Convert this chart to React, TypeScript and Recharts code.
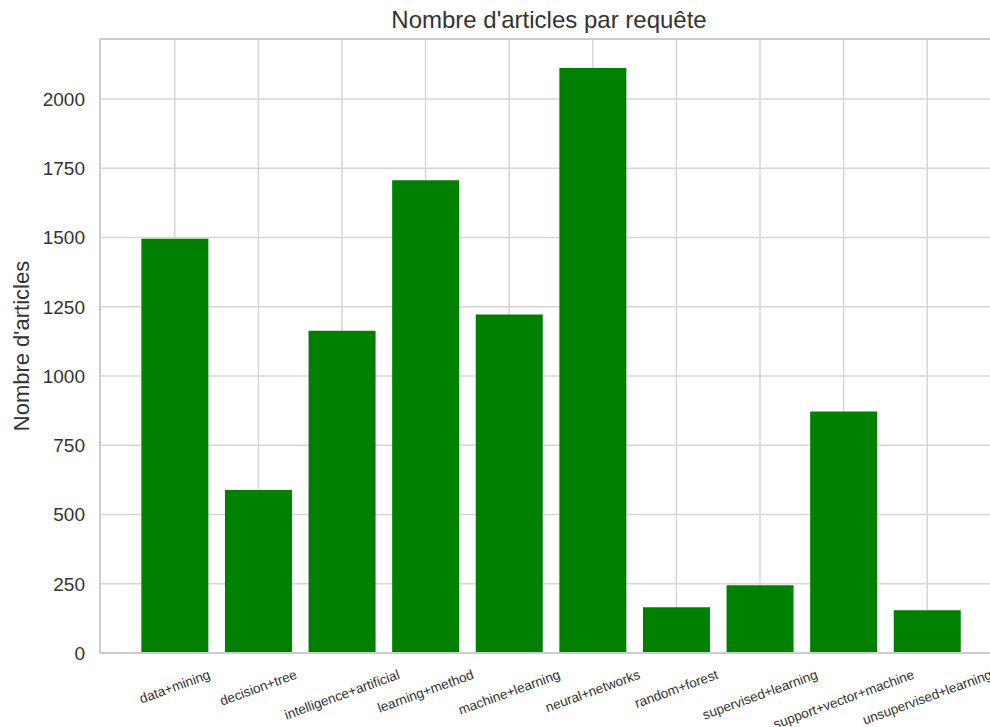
import React from "react";
import {
  BarChart,
  Bar,
  XAxis,
  YAxis,
  CartesianGrid,
  ReferenceLine,
} from "recharts";

const CATEGORIES = [
  "data+mining",
  "decision+tree",
  "intelligence+artificial",
  "learning+method",
  "machine+learning",
  "neural+networks",
  "random+forest",
  "supervised+learning",
  "support+vector+machine",
  "unsupervised+learning",
];
const ARTICLE_COUNTS = [1496, 589, 1164, 1707, 1222, 2112, 165, 245, 872, 154];
const Y_TICKS = [0, 250, 500, 750, 1000, 1250, 1500, 1750, 2000];
const Y_MAX = 2217;

const FONT = '"Liberation Sans", Arial, sans-serif';
const TEXT = "#333333";
const SPINE = "#cccccc";
const X_FONT = 13.5;

// rough Arial advance widths, used to place the rotated labels
function textWidth(s: string, size: number): number {
  let w = 0;
  for (const ch of s) {
    if ("ijl".includes(ch)) w += 0.222;
    else if ("ft".includes(ch)) w += 0.278;
    else if (ch === "r") w += 0.333;
    else if ("cksvxyz".includes(ch)) w += 0.5;
    else if (ch === "+") w += 0.584;
    else if (ch === "w") w += 0.722;
    else if (ch === "m") w += 0.833;
    else w += 0.556;
  }
  return w * size;
}

function RotatedTick(props: any) {
  const { x, y, payload } = props;
  const label = String(payload.value);
  const cy = y + 21 + textWidth(label, X_FONT) * 0.171;
  return (
    <text
      x={0}
      y={0}
      textAnchor="middle"
      dominantBaseline="central"
      transform={`translate(${x},${cy}) rotate(-20)`}
      fontSize={X_FONT}
      fontFamily={FONT}
      fill={TEXT}
    >
      {label}
    </text>
  );
}

function YLabel(props: any) {
  const { viewBox } = props;
  const cy = viewBox.y + viewBox.height / 2;
  return (
    <text
      x={0}
      y={0}
      textAnchor="middle"
      dominantBaseline="central"
      transform={`translate(21,${cy}) rotate(-90)`}
      fontSize={22}
      fontFamily={FONT}
      fill={TEXT}
    >
      Nombre d'articles
    </text>
  );
}

export default function App() {
  const data = CATEGORIES.map((name, i) => ({ name, count: ARTICLE_COUNTS[i] }));

  return (
    <div
      style={{
        position: "absolute",
        left: 0,
        top: 0,
        width: 990,
        height: 727,
        overflow: "hidden",
        background: "#fff",
      }}
    >
      <svg
        width={990}
        height={40}
        style={{ position: "absolute", left: 0, top: 0 }}
      >
        <text
          x={549}
          y={28}
          textAnchor="middle"
          fontSize={24}
          fontFamily={FONT}
          fill={TEXT}
        >
          Nombre d'articles par requête
        </text>
      </svg>
      <div style={{ position: "absolute", left: 0, top: 0 }}>
        <BarChart
          width={1002}
          height={727}
          data={data}
          margin={{ top: 39, right: 1, bottom: 0, left: 0 }}
          barCategoryGap="10%"
        >
          <CartesianGrid stroke="#d6d6d6" strokeWidth={1.5} />
          <XAxis
            dataKey="name"
            height={74}
            interval={0}
            padding={{ left: 33, right: 32 }}
            tickLine={false}
            tickSize={0}
            tickMargin={0}
            axisLine={{ stroke: SPINE, strokeWidth: 2 }}
            tick={<RotatedTick />}
          />
          <YAxis
            width={100}
            domain={[0, Y_MAX]}
            ticks={Y_TICKS}
            allowDataOverflow
            tickLine={false}
            tickSize={0}
            tickMargin={15}
            axisLine={{ stroke: SPINE, strokeWidth: 2 }}
            tick={{ fontSize: 19, fill: TEXT, fontFamily: FONT }}
            label={<YLabel />}
          />
          <ReferenceLine y={Y_MAX} stroke={SPINE} strokeWidth={2} />
          <Bar dataKey="count" fill="#008000" isAnimationActive={false} />
        </BarChart>
      </div>
    </div>
  );
}
